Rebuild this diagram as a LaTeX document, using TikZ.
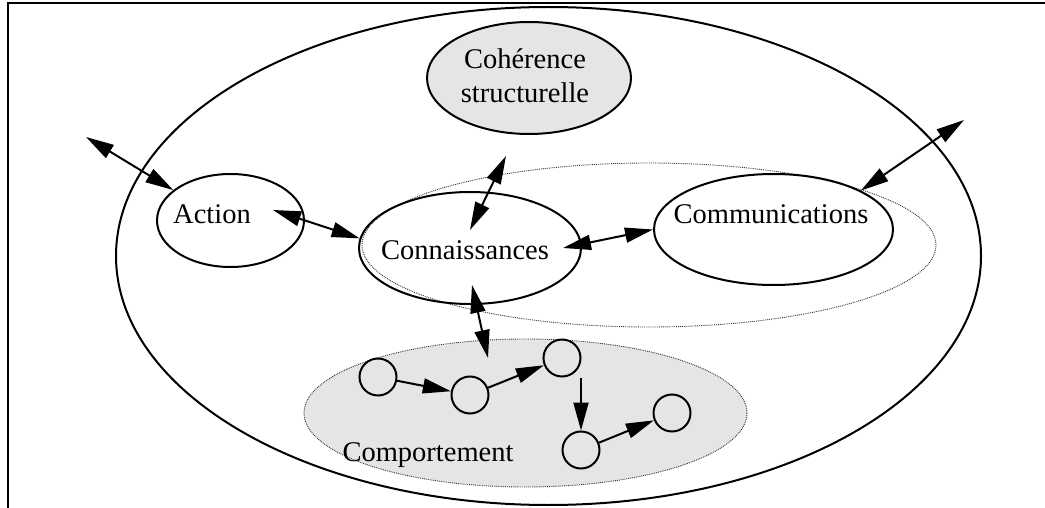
\documentclass[tikz,border=0pt]{standalone}
\usepackage{fontspec}
\setmainfont{Liberation Serif}
\usepackage{tikz}
\usetikzlibrary{positioning,shapes.geometric,arrows.meta}
\tikzstyle{schema} = [x = 1pt, y = -1pt]
\definecolor{fillGray}{RGB}{229,229,229}
\definecolor{dotGray}{RGB}{50,50,50}
\tikzstyle{frameLine} = [line width=2.5pt]
\tikzstyle{blobStyle} = [ellipse, draw, line width=2pt, inner sep=0pt]
\tikzstyle{groupStyle} = [ellipse, draw=dotGray, densely dotted, line width=0.9pt, inner sep=0pt]
\tikzstyle{labelText} = [font=\fontsize{28.5}{34}\selectfont, anchor=base, inner sep=0pt]
\tikzstyle{stateStyle} = [circle, draw, line width=2pt, minimum size=37pt, inner sep=0pt]
\tikzstyle{oneArrow} = [-{Triangle[length=28pt,width=15pt]}, line width=2pt]
\tikzstyle{twoArrow} = [{Triangle[length=28pt,width=15pt]}-{Triangle[length=28pt,width=15pt]}, line width=2pt]
\newcommand{\blob}[6]{\node [#6, minimum width=#4pt, minimum height=#5pt] (#1) at (#2,#3) {};}

\begin{document}
\begin{tikzpicture}[schema]
\useasboundingbox (0,0) rectangle (1045,508);
\draw [frameLine] (8,510) -- (8,3) -- (1047,3);
% ellipses
\blob{agent}{548.5}{256}{865}{498}{blobStyle}
\blob{coherence}{529}{78}{204}{112}{blobStyle, fill=fillGray}
\blob{group}{649}{245}{574}{164}{groupStyle}
\blob{comportement}{525.5}{413}{443}{148}{groupStyle, fill=fillGray}
\blob{action}{230.5}{220.5}{147}{93}{blobStyle}
\blob{connaissances}{470}{248}{222}{112}{blobStyle}
\blob{communications}{773.5}{229.5}{239}{111}{blobStyle}
% texts
\node [labelText, align=center, anchor=center] (coherenceText) at (525,75.5) {Cohérence\\structurelle};
\node [labelText] (actionText) at (212,223) {Action};
\node [labelText] (connaissancesText) at (465,259) {Connaissances};
\node [labelText] (communicationsText) at (771,223) {Communications};
\node [labelText] (comportementText) at (428,461) {Comportement};
% behaviour states
\foreach \name/\x/\y in {state1/378/377, state2/470/395, state3/562/358, state4/581/450, state5/672/413}
  \node [stateStyle] (\name) at (\x,\y) {};
\draw [oneArrow] (state1) -- (state2);
\draw [oneArrow] (state2) -- (state3);
\draw [oneArrow] (state3.south -| state4) -- (state4.north);
\draw [oneArrow] (state4) -- (state5);
% links
\coordinate (outLeft) at (86,137);
\coordinate (outRight) at (964,120);
\coordinate (actionIn) at (273,210);
\coordinate (connTop) at (470,230);
\coordinate (cohLow) at (506,156);
\coordinate (connRight) at (563,248);
\coordinate (connLow) at (472,285);
\coordinate (compTop) at (488,358);
\draw [twoArrow] (outLeft) -- (action.152);
\draw [twoArrow] (actionIn) -- (connaissances.175);
\draw [twoArrow] (connTop) -- (cohLow);
\draw [twoArrow] (connRight) -- (communications.west);
\draw [twoArrow] (communications.24.5) -- (outRight);
\draw [twoArrow] (connLow) -- (compTop);
\end{tikzpicture}
\end{document}
